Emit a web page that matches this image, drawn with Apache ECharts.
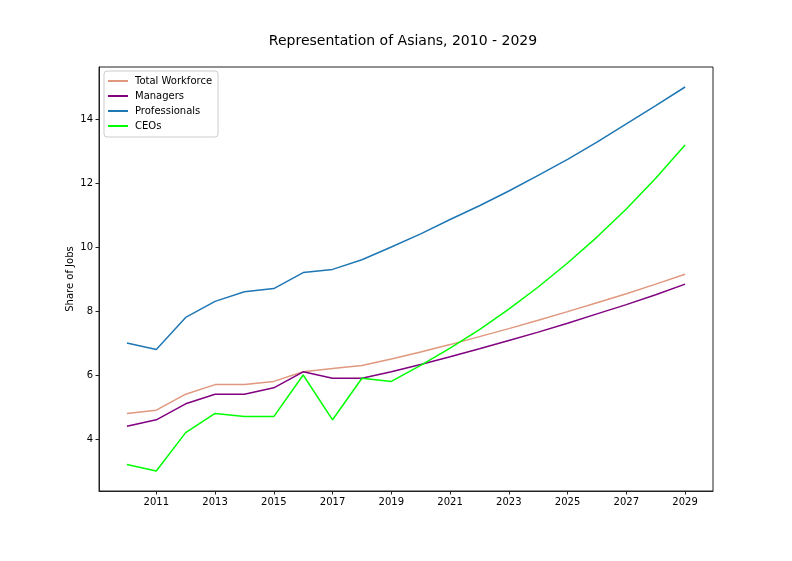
<!DOCTYPE html>
<html>
<head>
<meta charset="utf-8">
<script src="https://cdn.jsdelivr.net/npm/echarts@6/dist/echarts.min.js"></script>
<style>html,body{margin:0;padding:0;background:#fff}#c{width:792px;height:561px}</style>
</head>
<body>
<div id="c"></div>
<script>
const years = [2010,2011,2012,2013,2014,2015,2016,2017,2018,2019,2020,2021,2022,2023,2024,2025,2026,2027,2028,2029];
const totalWorkforce = [4.8,4.9,5.4,5.7,5.7,5.8,6.1,6.2,6.3,6.5,6.72,6.95,7.2,7.45,7.71,7.98,8.26,8.54,8.84,9.15];
const managers = [4.4,4.6,5.1,5.4,5.4,5.6,6.1,5.9,5.9,6.1,6.33,6.57,6.82,7.08,7.34,7.62,7.91,8.2,8.51,8.84];
const professionals = [7.0,6.8,7.8,8.3,8.6,8.7,9.2,9.3,9.6,10.0,10.41,10.86,11.29,11.75,12.24,12.74,13.28,13.85,14.42,15.0];
const ceos = [3.2,3.0,4.2,4.8,4.7,4.7,6.0,4.6,5.9,5.8,6.3,6.84,7.42,8.06,8.75,9.5,10.31,11.19,12.15,13.19];
const xTicks = [2011,2013,2015,2017,2019,2021,2023,2025,2027,2029];
const yTicks = [4,6,8,10,12,14];

const seriesDefs = [
  {name:'Total Workforce', data: totalWorkforce, color:'#e0987f'},
  {name:'Managers', data: managers, color:'#800080'},
  {name:'Professionals', data: professionals, color:'#1f77b4'},
  {name:'CEOs', data: ceos, color:'#00ff00'}
];

const chart = echarts.init(document.getElementById('c'), null, {renderer:'canvas'});
const font = 'DejaVu Sans';
chart.setOption({
  animation:false,
  backgroundColor:'#fff',
  title:{
    text:'Representation of Asians, 2010 - 2029',
    left:398, top:29, textAlign:'center',
    textStyle:{fontFamily:font, fontSize:14, fontWeight:'normal', color:'#000'}
  },
  legend:{
    orient:'vertical', left:104, top:71,
    data: seriesDefs.map(s=>s.name),
    icon:'rect', itemWidth:20, itemHeight:2, itemGap:5,
    padding:[5,6,6,4],
    borderColor:'#cccccc', borderWidth:1, borderRadius:3, backgroundColor:'#fff',
    textStyle:{fontFamily:font, fontSize:10, color:'#000', padding:[0,0,0,2]}
  },
  grid:{left:99, right:79, top:67, bottom:70, show:true, borderColor:'#222', borderWidth:1, backgroundColor:'transparent'},
  xAxis:{
    type:'value', min:2009.05, max:2029.95,
    axisLine:{show:true, lineStyle:{color:'#222', width:1}},
    axisTick:{show:true, length:3.5, lineStyle:{color:'#222'}, customValues:xTicks},
    axisLabel:{fontFamily:font, fontSize:10, color:'#000', margin:6, customValues:xTicks, formatter:v=>String(v)},
    splitLine:{show:false}
  },
  yAxis:{
    type:'value', min:2.375, max:15.625,
    name:'Share of Jobs', nameLocation:'middle', nameGap:24, nameRotate:90, nameMoveOverlap:false,
    nameTextStyle:{fontFamily:font, fontSize:10, color:'#000'},
    axisLine:{show:true, lineStyle:{color:'#222', width:1}},
    axisTick:{show:true, length:3.5, lineStyle:{color:'#222'}, customValues:yTicks},
    axisLabel:{fontFamily:font, fontSize:10, color:'#000', margin:6, customValues:yTicks, formatter:v=>String(v)},
    splitLine:{show:false}
  },
  series: seriesDefs.map(s=>({
    name:s.name, type:'line', symbol:'none', showSymbol:false,
    data: years.map((y,i)=>[y, s.data[i]]),
    lineStyle:{color:s.color, width:1.5},
    itemStyle:{color:s.color}
  }))
});
</script>
</body>
</html>
